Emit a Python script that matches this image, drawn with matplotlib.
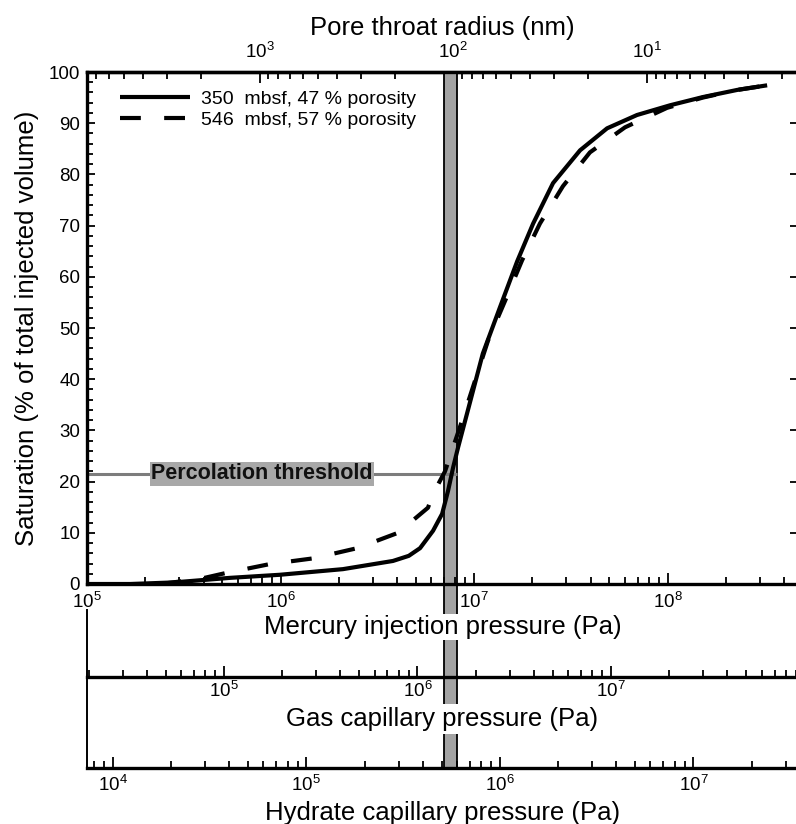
import numpy as np
import matplotlib
matplotlib.use('Agg')
import matplotlib.pyplot as plt
from matplotlib.ticker import LogLocator, NullFormatter, MultipleLocator

plt.rcParams['font.family'] = ['Liberation Sans', 'DejaVu Sans']

# mercury injection pressure (Pa) vs saturation (%)
p_350 = [1.0e5, 1.67e5, 2.78e5, 5.48e5, 9.9e5, 2.10e6, 3.81e6, 4.6e6, 5.26e6, 6.14e6,
         6.84e6, 7.34e6, 7.79e6, 8.26e6, 9.20e6, 1.11e7, 1.36e7, 1.67e7, 2.02e7,
         2.56e7, 3.53e7, 4.87e7, 6.95e7, 1.03e8, 1.52e8, 2.29e8, 3.27e8]
s_350 = [0, 0, 0.3, 1.2, 1.8, 2.9, 4.5, 5.5, 7.0, 10.4,
         13.7, 18.2, 22.7, 26.6, 33.3, 45, 54, 63, 70.4,
         78.3, 84.7, 89, 91.6, 93.5, 95.1, 96.5, 97.4]

p_546 = [2.4e5, 3.84e5, 5.29e5, 8.83e5, 1.47e6, 2.49e6, 4.05e6, 5.78e6, 6.14e6,
         7.08e6, 8.67e6, 1.18e7, 1.45e7, 1.77e7, 2.19e7, 2.88e7, 3.97e7, 6.03e7,
         9.94e7, 1.52e8, 2.29e8, 3.27e8]
s_546 = [0, 1.0, 2.2, 3.9, 5.0, 7.0, 10.0, 14.9, 17.6,
         22.0, 31.9, 47.5, 55.4, 63.2, 70.4, 77.7, 84.3, 89.2,
         93.0, 95.0, 96.5, 97.4]

labels = ['350  mbsf, 47 % porosity', '546  mbsf, 57 % porosity']
radius_ticks = [1e3, 1e2, 1e1]  # nm

perc_threshold = 21.5          # %
bar_p = (7.0e6, 8.2e6)         # Pa, shaded pressure band
washburn_k = 7.8e8             # r(nm) = k / P(Pa)
gas_factor = 5.1               # P_hg / P_gas
hydrate_factor = 13.6          # P_hg / P_hydrate
xlim = (1e5, 10 ** 8.674)

W, H = 796, 824
fig = plt.figure(figsize=(W / 100, H / 100), dpi=100)

def frac(x0, y0, x1, y1):
    return [x0 / W, 1 - y1 / H, (x1 - x0) / W, (y1 - y0) / H]

ax = fig.add_axes(frac(87, 72, 798, 584))
ax_gas = fig.add_axes(frac(87, 610, 798, 677))
ax_hyd = fig.add_axes(frac(87, 677, 798, 768))
for a in (ax_gas, ax_hyd):
    a.patch.set_alpha(0)

# shaded band, running down through the lower scales
ax.axvspan(bar_p[0], bar_p[1], ymin=-(768 - 584) / 512, ymax=1, facecolor='#a3a3a3',
           edgecolor='black', linewidth=1.3, clip_on=False, zorder=1)

ax.hlines(perc_threshold, xlim[0], bar_p[1], color='#7d7d7d', linewidth=2.2, zorder=1.5)
ax.text(np.sqrt(1.3e5 * 4.9e6), perc_threshold, 'Percolation threshold', fontsize=15.5,
        fontweight='bold', ha='center', va='center', color='#111111', zorder=3,
        bbox=dict(facecolor='#a8a8a8', edgecolor='none', pad=1.0))

ax.plot(p_350, s_350, color='black', linewidth=3.0, label=labels[0], zorder=4,
        solid_capstyle='butt', solid_joinstyle='round')
ax.plot(p_546, s_546, color='black', linewidth=3.0, linestyle=(0, (5, 5.6)),
        label=labels[1], zorder=4, dash_capstyle='butt')

ax.set_xscale('log')
ax.set_xlim(*xlim)
ax.set_ylim(0, 100)
ax.yaxis.set_major_locator(MultipleLocator(10))
ax.yaxis.set_minor_locator(MultipleLocator(2))
ax.xaxis.set_major_locator(LogLocator(base=10))
ax.xaxis.set_minor_locator(LogLocator(base=10, subs=np.arange(2, 10)))
ax.xaxis.set_minor_formatter(NullFormatter())
ax.tick_params(axis='both', which='both', direction='in', labelsize=13.5, width=1.3)
ax.tick_params(axis='both', which='major', length=8)
ax.tick_params(axis='both', which='minor', length=5)
ax.tick_params(axis='x', which='both', top=False, pad=6)
ax.tick_params(axis='y', which='major', right=True, length=6, pad=5)
ax.tick_params(axis='y', which='minor', right=False, length=4)
for s in ax.spines.values():
    s.set_linewidth(2.4)

ax.set_ylabel('Saturation (% of total injected volume)', fontsize=18.5, labelpad=7)
ax.set_xlabel('Mercury injection pressure (Pa)', fontsize=18.5, labelpad=2,
              bbox=dict(facecolor='white', edgecolor='none', pad=1))

leg = ax.legend(loc='upper left', bbox_to_anchor=(0.035, 0.98), frameon=False,
                fontsize=14, handlelength=3.6, handletextpad=0.6, labelspacing=0.2,
                borderaxespad=0)

# pore throat radius on top
top = ax.secondary_xaxis('top', functions=(lambda p: washburn_k / p,
                                           lambda r: washburn_k / r))
top.set_xticks(radius_ticks)
top.xaxis.set_minor_locator(LogLocator(base=10, subs=np.arange(2, 10)))
top.xaxis.set_minor_formatter(NullFormatter())
top.tick_params(which='both', direction='in', labelsize=13.5, width=1.3, pad=7)
top.tick_params(which='major', length=8)
top.tick_params(which='minor', length=5)
top.spines['top'].set_linewidth(2.4)
top.set_xlabel('Pore throat radius (nm)', fontsize=18.5, labelpad=5)

# gas and hydrate capillary pressure scales
for a, f, name, pad, lpad in ((ax_gas, gas_factor, 'Gas capillary pressure (Pa)', 3, 4),
                              (ax_hyd, hydrate_factor, 'Hydrate capillary pressure (Pa)', 5, 4)):
    a.set_xscale('log')
    a.set_xlim(xlim[0] / f, xlim[1] / f)
    a.set_yticks([])
    a.xaxis.set_major_locator(LogLocator(base=10))
    a.xaxis.set_minor_locator(LogLocator(base=10, subs=np.arange(2, 10)))
    a.xaxis.set_minor_formatter(NullFormatter())
    a.tick_params(axis='x', which='both', direction='in', labelsize=13.5, width=1.3, pad=pad)
    a.tick_params(axis='x', which='major', length=8)
    a.tick_params(axis='x', which='minor', length=5)
    a.spines['top'].set_visible(False)
    a.spines['right'].set_visible(False)
    a.spines['bottom'].set_linewidth(2.4)
    a.spines['left'].set_linewidth(1.4)
    a.set_xlabel(name, fontsize=18.5, labelpad=lpad,
                 bbox=dict(facecolor='white', edgecolor='none', pad=2))

fig.savefig('out.png', dpi=100)
